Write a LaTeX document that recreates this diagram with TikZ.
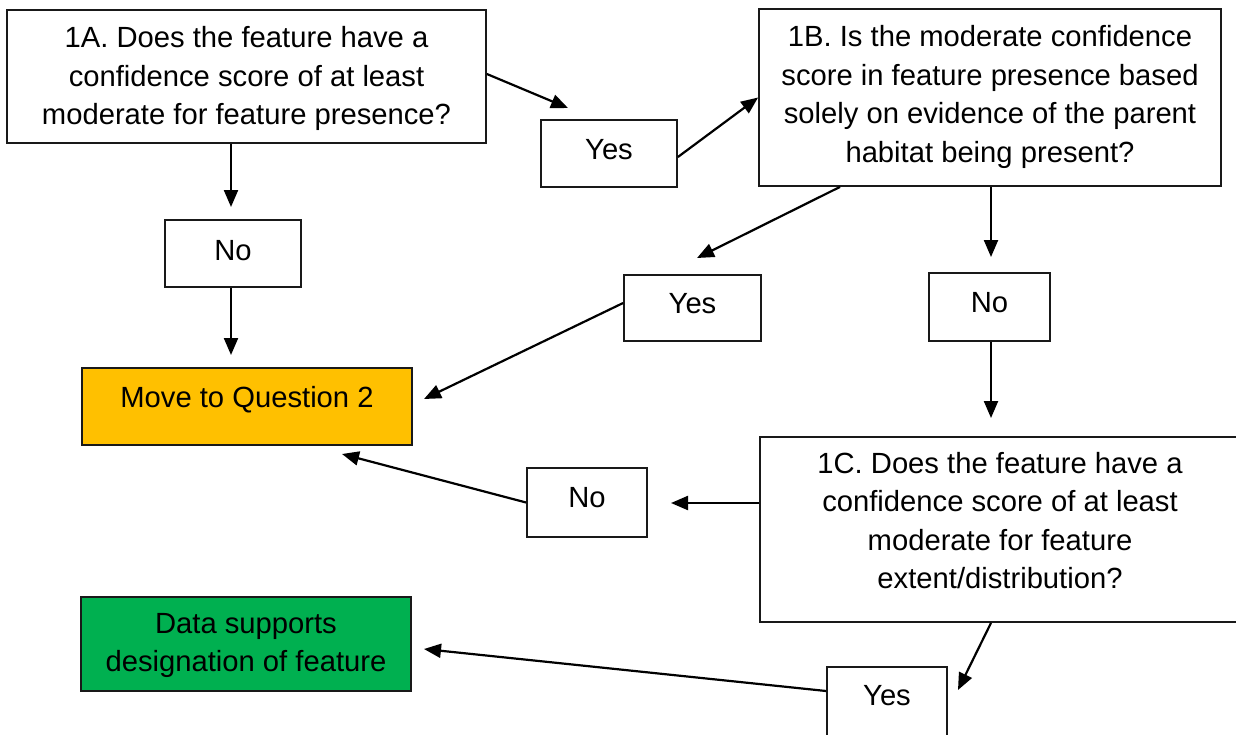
\documentclass[tikz,border=0pt]{standalone}
\usepackage{fontspec}
\setmainfont{Liberation Sans}
\usetikzlibrary{arrows.meta}
\definecolor{qorange}{HTML}{FFC000}
\definecolor{qgreen}{HTML}{00B050}
\newcommand{\mlines}[1]{\begin{tabular}[t]{@{}c@{}}#1\end{tabular}}
\begin{document}
\begin{tikzpicture}[x=1pt,y=-1pt,
  box/.style={draw=black!90, line width=1.8pt, rectangle, inner sep=0pt},
  txt/.style={inner sep=0pt, anchor=base, font=\fontsize{29.2pt}{38.5pt}\selectfont},
  arr/.style={line width=2.2pt, -{Triangle[length=17pt,width=14pt]}}]
\useasboundingbox (0,0) rectangle (1236,734);
% boxes
\node[box, minimum width=479pt, minimum height=133pt] (A) at (246.5,76.5) {};
\node[box, minimum width=136pt, minimum height=67pt] (yes1) at (609,153.5) {};
\node[box, minimum width=462pt, minimum height=177pt] (B) at (990,97.5) {};
\node[box, minimum width=136pt, minimum height=67pt] (no1) at (233,253.5) {};
\node[box, minimum width=137pt, minimum height=66pt] (yes2) at (692.5,308) {};
\node[box, minimum width=121pt, minimum height=68pt] (no2) at (989.5,307) {};
\node[box, fill=qorange, minimum width=330pt, minimum height=77pt] (move) at (247,406.5) {};
\node[box, minimum width=480pt, minimum height=185pt] (C) at (1000,529.5) {};
\node[box, minimum width=120pt, minimum height=69pt] (no3) at (587,502.5) {};
\node[box, fill=qgreen, minimum width=330pt, minimum height=94pt] (data) at (246,644) {};
\node[box, minimum width=120pt, minimum height=102pt] (yes3) at (887,718) {};
% texts (placed by first baseline)
\node[txt] (tA) at (246.5,47.5) {\mlines{1A. Does the feature have a\\confidence score of at least\\moderate for feature presence?}};
\node[txt] (tyes1) at (609,159) {Yes};
\node[txt] (tB) at (990,46.7) {\mlines{1B. Is the moderate confidence\\score in feature presence based\\solely on evidence of the parent\\habitat being present?}};
\node[txt] (tno1) at (233,260) {No};
\node[txt] (tyes2) at (692.5,313) {Yes};
\node[txt] (tno2) at (989.5,312) {No};
\node[txt] (tmove) at (247,407) {Move to Question 2};
\node[txt] (tC) at (1000,473) {\mlines{1C. Does the feature have a\\confidence score of at least\\moderate for feature\\extent/distribution?}};
\node[txt] (tno3) at (587,507) {No};
\node[txt] (tdata) at (246,633) {\mlines{Data supports\\designation of feature}};
\node[txt] (tyes3) at (887,705) {Yes};
% free arrow ends
\coordinate (t1) at (568,108);
\coordinate (t3) at (231,207);
\coordinate (t4) at (231,355);
\coordinate (t5) at (697,258);
\coordinate (t6) at (991,257);
\coordinate (t7) at (424,399);
\coordinate (t8) at (991,418);
\coordinate (t9) at (671,503);
\coordinate (t10) at (342,454);
\coordinate (t11) at (958,690);
\coordinate (t12) at (424,649);
% connectors
\draw[arr] ([yshift=2.5pt]A.east) -- (t1);
\draw[arr] ([yshift=-3.5pt]yes1.east) -- (B.west);
\draw[arr] (A.south -| t3) -- (t3);
\draw[arr] (no1.south -| t4) -- (t4);
\draw[arr] ([xshift=-150pt]B.south) -- (t5);
\draw[arr] (B.south -| t6) -- (t6);
\draw[arr] ([yshift=5pt]yes2.west) -- (t7);
\draw[arr] (no2.south -| t8) -- (t8);
\draw[arr] (C.west |- t9) -- (t9);
\draw[arr] (no3.west) -- (t10);
\draw[arr] ([xshift=-9pt]C.south) -- (t11);
\draw[arr] ([yshift=27pt]yes3.west) -- (t12);
\end{tikzpicture}
\end{document}
